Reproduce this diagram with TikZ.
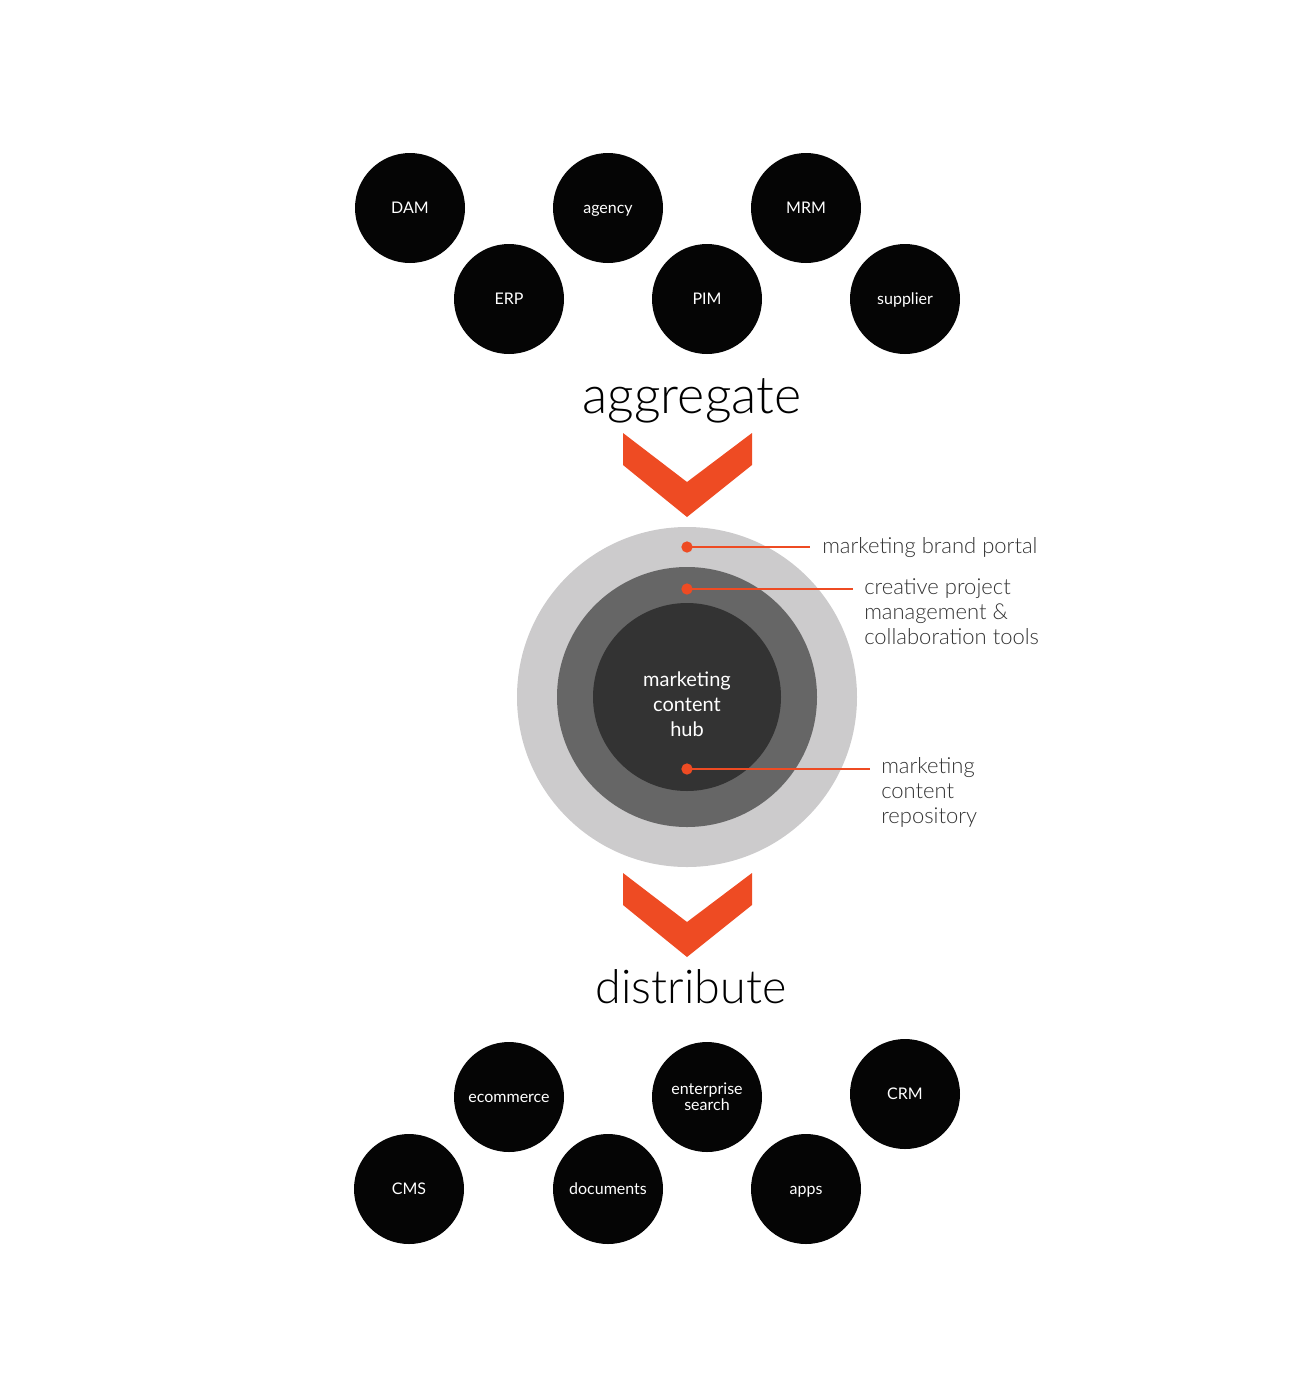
\documentclass[tikz,border=0pt]{standalone}
\usepackage{fontspec}
\IfFontExistsTF{Lato Light}{\setmainfont{Lato Light}[BoldFont=Lato]}{\setmainfont{Lato}}
\newfontfamily\boxfont{Lato}
\definecolor{hubred}{HTML}{EE4B23}
\definecolor{ringlight}{HTML}{CCCBCC}
\definecolor{ringmid}{HTML}{666666}
\definecolor{ringdark}{HTML}{333333}
\definecolor{labelgray}{HTML}{333333}
\tikzset{
  source/.style={circle, fill=black!98, minimum size=82.5pt, inner sep=0pt,
    text=white, font=\boxfont\fontsize{12}{12}\selectfont, align=center,
    text height=8.6pt, text depth=0pt},
  chevron/.style={fill=hubred, draw=none},
  ringlabel/.style={anchor=base west, text=labelgray, align=left,
    font=\fontsize{16.5}{18.75}\selectfont, inner sep=0pt},
  bigword/.style={anchor=base, text=black, inner sep=0pt},
  ring/.style={circle, inner sep=0pt},
  pin/.style={circle, fill=hubred, minimum size=8.5pt, inner sep=0pt},
  pinline/.style={draw=hubred, line width=1.3pt}
}
\begin{document}
\begin{tikzpicture}[x=0.75pt, y=-0.75pt]
\useasboundingbox (0,0) rectangle (1314,1397);

% aggregate sources
\node[source] (dam)      at (410,208) {DAM};
\node[source] (agency)   at (608,208) {agency};
\node[source] (mrm)      at (806,208) {MRM};
\node[source] (erp)      at (509,299) {ERP};
\node[source] (pim)      at (707,299) {PIM};
\node[source] (supplier) at (905,299) {supplier};

\node[bigword, font=\fontsize{39}{40}\selectfont] (aggregate) at (692,413) {aggregate};

\fill[chevron] (623,433) -- (687,482) -- (752,433) -- (752,465) -- (687,517) -- (623,465) -- cycle;

% hub rings
\node[ring, fill=ringlight, minimum size=255pt] (portal) at (687,697) {};
\node[ring, fill=ringmid, minimum size=195pt] (tools) at (portal.center) {};
\node[ring, fill=ringdark, minimum size=141pt] (hub) at (portal.center) {};
\node[anchor=base, inner sep=0pt, text=white, align=center,
  font=\boxfont\fontsize{15}{18.75}\selectfont] (hubtext) at (687,736) {marketing\\content\\hub};

\node[pin] (pinportal) at (687,547) {};
\node[pin] (pintools) at (687,589) {};
\node[pin] (pinrepo) at (687,769) {};
\coordinate (endportal) at (810,547);
\coordinate (endtools) at (853,589);
\coordinate (endrepo) at (870,769);
\draw[pinline] (pinportal.center) -- (endportal);
\draw[pinline] (pintools.center) -- (endtools);
\draw[pinline] (pinrepo.center) -- (endrepo);

\node[ringlabel] (lportal) at (822,553) {marketing brand portal};
\node[ringlabel] (ltools) at (864,644) {creative project\\management \&\\collaboration tools};
\node[ringlabel] (lrepo) at (881,823) {marketing\\content\\repository};

\fill[chevron] (623,873) -- (687,922) -- (752,873) -- (752,905) -- (687,957) -- (623,905) -- cycle;

\node[bigword, font=\fontsize{35}{36}\selectfont] (distribute) at (691,1003) {distribute};

% distribution targets
\node[source] (ecommerce)  at (509,1097) {ecommerce};
\node[source, text height=20.6pt] (search) at (707,1097) {enterprise\\search};
\node[source] (crm)        at (905,1094) {CRM};
\node[source] (cms)        at (409,1189) {CMS};
\node[source] (documents)  at (608,1189) {documents};
\node[source] (apps)       at (806,1189) {apps};
\end{tikzpicture}
\end{document}
